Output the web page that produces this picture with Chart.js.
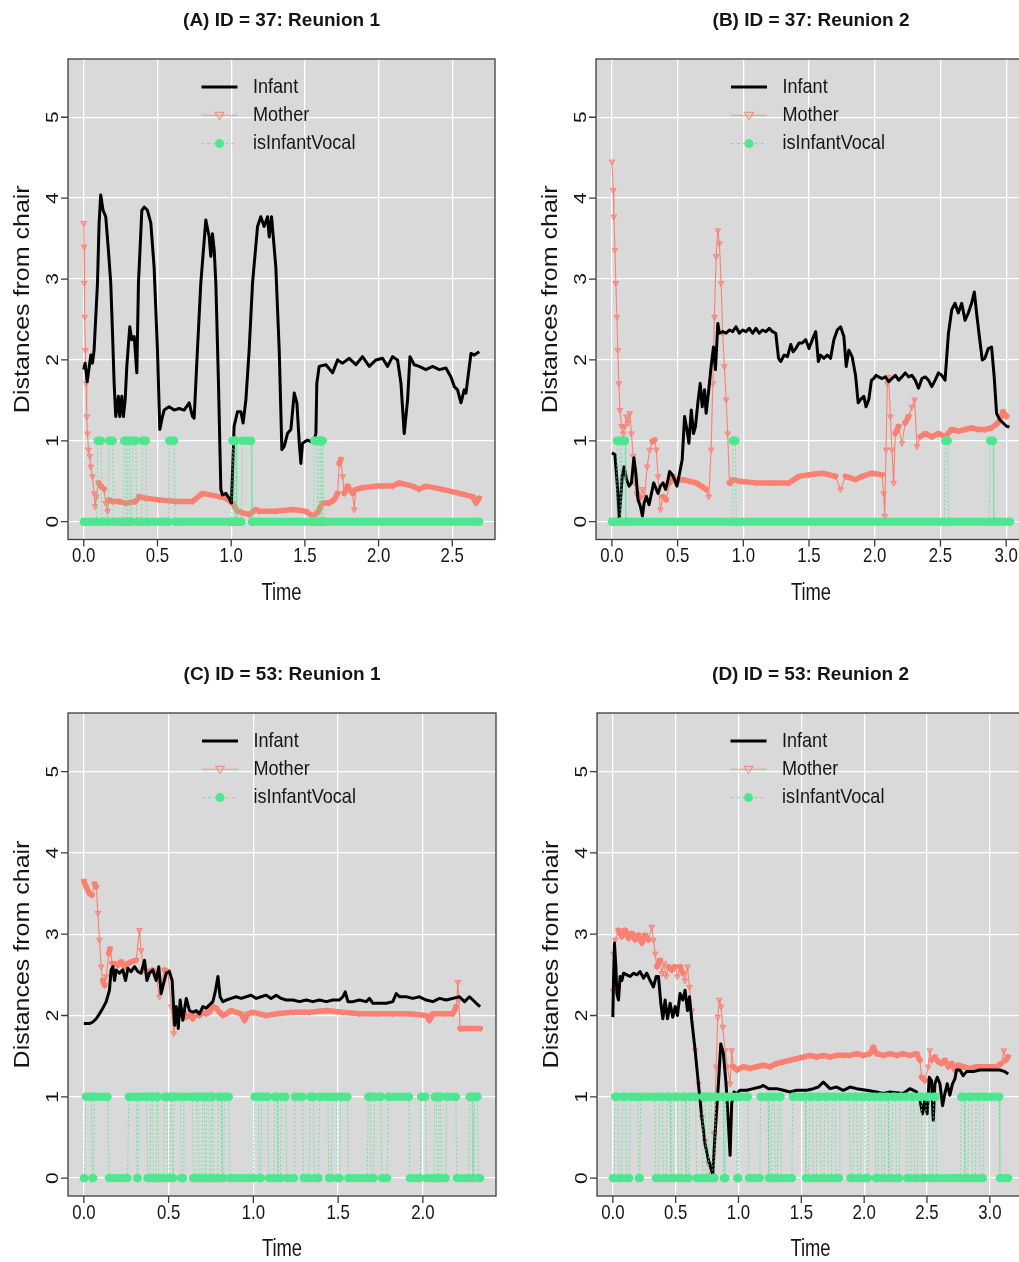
<!DOCTYPE html>
<html>
<head>
<meta charset="utf-8">
<title>Distances from chair</title>
<script src="https://cdn.jsdelivr.net/npm/chart.js@4.4.1/dist/chart.umd.min.js"></script>
<style>
html, body { margin: 0; padding: 0; background: #fff; width: 1019px; height: 1262px; overflow: hidden; }
canvas { position: absolute; }
</style>
</head>
<body>
<canvas id="pA" width="510" height="640" style="left:0;top:0;width:510px;height:640px"></canvas>
<canvas id="pB" width="530" height="640" style="left:510px;top:0;width:530px;height:640px"></canvas>
<canvas id="pC" width="510" height="622" style="left:0;top:640px;width:510px;height:622px"></canvas>
<canvas id="pD" width="530" height="622" style="left:510px;top:640px;width:530px;height:622px"></canvas>
<script>
// ---- data: [time, distance] ----
const infantA = [[0,1.88],[0.009,1.96],[0.023,1.73],[0.048,2.06],[0.059,1.96],[0.070,2.12],[0.093,2.95],[0.104,3.69],[0.115,4.04],[0.131,3.85],
  [0.149,3.77],[0.167,3.36],[0.183,2.95],[0.195,2.33],[0.206,1.71],[0.217,1.30],[0.235,1.55],[0.244,1.30],[0.258,1.55],[0.269,1.30],
  [0.281,1.51],[0.292,1.92],[0.312,2.41],[0.326,2.25],[0.342,2.29],[0.360,1.84],[0.371,2.95],[0.394,3.85],[0.410,3.89],[0.432,3.85],
  [0.455,3.69],[0.477,3.15],[0.500,2.12],[0.516,1.14],[0.534,1.30],[0.545,1.38],[0.579,1.42],[0.613,1.38],[0.647,1.40],[0.681,1.38],
  [0.715,1.47],[0.738,1.30],[0.749,1.28],[0.771,2.12],[0.794,2.95],[0.828,3.73],[0.851,3.52],[0.862,3.28],[0.873,3.56],[0.885,3.36],
  [0.896,2.95],[0.914,1.71],[0.930,0.40],[0.941,0.33],[0.964,0.35],[0.986,0.29],[1.002,0.23],[1.020,1.18],[1.043,1.36],[1.066,1.36],
  [1.081,1.22],[1.100,1.51],[1.122,2.12],[1.145,2.95],[1.179,3.65],[1.201,3.77],[1.224,3.65],[1.247,3.77],[1.258,3.52],[1.274,3.77],
  [1.303,3.15],[1.326,2.12],[1.344,0.89],[1.360,0.93],[1.382,1.09],[1.405,1.14],[1.428,1.59],[1.446,1.47],[1.462,0.97],[1.473,0.72],
  [1.484,0.97],[1.518,1.01],[1.541,0.99],[1.563,1.01],[1.575,1.09],[1.581,1.71],[1.597,1.92],[1.643,1.94],[1.688,1.84],[1.722,2.00],
  [1.756,1.96],[1.801,2.02],[1.846,1.94],[1.891,2.04],[1.937,1.92],[1.982,2.00],[2.027,2.02],[2.061,1.92],[2.095,2.04],[2.129,2.00],
  [2.152,1.71],[2.174,1.09],[2.197,1.51],[2.213,2.04],[2.242,1.94],[2.276,1.92],[2.321,1.88],[2.367,1.92],[2.412,1.88],[2.457,1.90],
  [2.491,1.79],[2.514,1.67],[2.536,1.63],[2.559,1.47],[2.581,1.63],[2.593,1.59],[2.627,2.08],[2.649,2.06],[2.683,2.10]];
const motherA = [[0,3.69],[0.002,3.40],[0.004,2.95],[0.007,2.53],[0.011,2.12],[0.016,1.71],[0.020,1.30],[0.025,1.09],[0.032,0.89],[0.041,0.81],
  [0.048,0.68],[0.059,0.56],[0.070,0.35],[0.077,0.19],[0.086,0.31],[0.100,0.48],[0.115,0.44],[0.138,0.40],[0.149,0.23],[0.161,0.13],
  [0.172,0.27],[0.195,0.25],[0.240,0.25],[0.285,0.23],[0.353,0.25],[0.376,0.31],[0.421,0.29],[0.511,0.27],[0.624,0.25],[0.738,0.25],
  [0.805,0.35],[0.919,0.31],[0.964,0.29],[1.009,0.23],[1.043,0.13],[1.077,0.11],[1.122,0.09],[1.167,0.15],[1.190,0.13],[1.303,0.13],
  [1.416,0.15],[1.507,0.13],[1.552,0.07],[1.586,0.11],[1.620,0.23],[1.665,0.23],[1.699,0.27],[1.722,0.35],[1.733,0.72],[1.744,0.77],
  [1.756,0.56],[1.767,0.35],[1.790,0.44],[1.824,0.35],[1.835,0.15],[1.846,0.40],[1.891,0.42],[1.982,0.44],[2.027,0.44],[2.095,0.44],
  [2.140,0.48],[2.231,0.44],[2.276,0.40],[2.321,0.44],[2.434,0.40],[2.548,0.35],[2.638,0.31],[2.661,0.23],[2.683,0.29]];
// vocal runs: [start, end, level]
const vocalA = [[0,0.088,0],[0.094,0.116,1],[0.122,0.166,0],[0.172,0.196,1],[0.202,0.268,0],[0.274,0.285,1],[0.29,0.294,0],[0.299,0.31,1],
  [0.316,0.324,0],[0.33,0.353,1],[0.359,0.392,0],[0.398,0.421,1],[0.427,0.574,0],[0.58,0.613,1],[0.619,1.004,0],[1.008,1.018,1],
  [1.022,1.024,0],[1.028,1.034,1],[1.038,1.07,0],[1.076,1.135,1],[1.141,1.558,0],[1.564,1.58,1],[1.585,1.59,0],[1.595,1.605,1],
  [1.61,1.612,0],[1.616,1.622,1],[1.628,2.683,0]];

const infantB = [[0,0.85],[0.023,0.83],[0.040,0.48],[0.056,0.05],[0.066,0.27],[0.078,0.56],[0.093,0.68],[0.111,0.52],[0.131,0.44],[0.149,0.48],
  [0.167,0.79],[0.182,0.60],[0.199,0.27],[0.217,0.19],[0.232,0.07],[0.245,0.23],[0.263,0.31],[0.283,0.21],[0.301,0.35],[0.318,0.48],
  [0.333,0.42],[0.351,0.35],[0.369,0.44],[0.389,0.48],[0.409,0.40],[0.427,0.52],[0.439,0.62],[0.460,0.58],[0.477,0.52],[0.495,0.44],
  [0.515,0.60],[0.535,0.77],[0.553,1.30],[0.571,1.14],[0.586,0.97],[0.604,1.38],[0.621,1.09],[0.636,1.18],[0.654,1.47],[0.672,1.71],
  [0.687,1.42],[0.705,1.63],[0.717,1.34],[0.737,1.63],[0.755,1.92],[0.773,2.16],[0.788,1.88],[0.806,2.45],[0.818,2.33],[0.843,2.35],
  [0.869,2.33],[0.894,2.37],[0.919,2.35],[0.944,2.41],[0.970,2.33],[0.995,2.37],[1.020,2.35],[1.045,2.39],[1.071,2.33],[1.096,2.39],
  [1.121,2.33],[1.146,2.37],[1.172,2.35],[1.197,2.39],[1.222,2.35],[1.247,2.33],[1.268,2.02],[1.285,1.98],[1.311,2.06],[1.336,2.04],
  [1.361,2.19],[1.379,2.10],[1.399,2.14],[1.424,2.21],[1.449,2.21],[1.475,2.25],[1.500,2.14],[1.525,2.25],[1.551,2.35],[1.571,1.98],
  [1.588,2.06],[1.614,2.02],[1.639,2.06],[1.664,2.02],[1.689,2.25],[1.715,2.37],[1.740,2.41],[1.765,2.29],[1.783,1.92],[1.803,2.12],
  [1.828,2.04],[1.854,1.81],[1.874,1.47],[1.891,1.51],[1.917,1.55],[1.934,1.42],[1.955,1.51],[1.975,1.75],[1.992,1.77],[2.010,1.81],
  [2.030,1.79],[2.056,1.77],[2.081,1.79],[2.106,1.73],[2.131,1.77],[2.157,1.81],[2.182,1.75],[2.207,1.79],[2.232,1.84],[2.258,1.79],
  [2.283,1.81],[2.308,1.75],[2.333,1.65],[2.359,1.77],[2.384,1.79],[2.409,1.75],[2.434,1.67],[2.460,1.75],[2.485,1.84],[2.510,1.81],
  [2.535,1.75],[2.561,2.33],[2.586,2.62],[2.611,2.70],[2.636,2.58],[2.662,2.70],[2.687,2.49],[2.712,2.58],[2.737,2.70],[2.758,2.84],
  [2.775,2.58],[2.793,2.33],[2.818,2.00],[2.838,2.02],[2.864,2.14],[2.889,2.16],[2.909,1.79],[2.927,1.34],[2.952,1.26],[2.977,1.22],
  [3.003,1.18],[3.025,1.17]];
const motherB = [[0,4.45],[0.010,4.10],[0.015,3.77],[0.023,3.36],[0.030,2.95],[0.038,2.53],[0.045,2.12],[0.053,1.71],[0.061,1.38],[0.073,1.18],
  [0.086,1.09],[0.098,1.18],[0.111,1.30],[0.124,1.22],[0.136,1.34],[0.149,1.09],[0.162,0.81],[0.174,0.48],[0.192,0.35],[0.212,0.29],
  [0.232,0.40],[0.250,0.31],[0.268,0.68],[0.288,0.89],[0.308,0.99],[0.326,1.01],[0.338,0.89],[0.351,0.56],[0.369,0.15],[0.389,0.31],
  [0.414,0.27],[0.439,0.48],[0.465,0.56],[0.490,0.48],[0.515,0.52],[0.540,0.52],[0.591,0.50],[0.641,0.48],[0.679,0.44],[0.717,0.40],
  [0.737,0.31],[0.755,0.89],[0.768,1.71],[0.780,2.53],[0.793,3.28],[0.806,3.60],[0.818,3.44],[0.831,2.95],[0.843,2.33],[0.856,1.92],
  [0.869,1.51],[0.881,1.09],[0.894,0.48],[0.907,0.48],[0.919,0.52],[0.970,0.50],[1.096,0.48],[1.222,0.48],[1.348,0.48],[1.424,0.56],
  [1.500,0.58],[1.601,0.60],[1.702,0.56],[1.740,0.40],[1.778,0.56],[1.854,0.52],[1.904,0.56],[1.980,0.60],[2.056,0.58],[2.068,0.35],
  [2.076,0.07],[2.086,0.89],[2.096,1.71],[2.106,1.79],[2.119,1.30],[2.131,0.89],[2.144,0.48],[2.157,1.09],[2.182,1.18],[2.207,0.97],
  [2.232,1.22],[2.258,1.30],[2.283,1.42],[2.303,1.51],[2.321,0.93],[2.346,1.05],[2.384,1.09],[2.434,1.05],[2.485,1.09],[2.535,1.05],
  [2.586,1.14],[2.636,1.12],[2.687,1.14],[2.737,1.16],[2.788,1.14],[2.838,1.14],[2.889,1.16],[2.939,1.22],[2.977,1.36],[3.003,1.30]];
const vocalB = [[0,0.032,0],[0.038,0.06,1],[0.065,0.07,0],[0.075,0.1,1],[0.106,0.914,0],[0.92,0.94,1],[0.946,2.53,0],[2.536,2.556,1],
  [2.562,2.872,0],[2.878,2.9,1],[2.906,3.03,0]];

const infantC = [[0,1.90],[0.033,1.90],[0.053,1.92],[0.073,1.96],[0.092,2.02],[0.112,2.09],[0.132,2.17],[0.151,2.31],[0.161,2.56],[0.171,2.60],
  [0.181,2.43],[0.191,2.56],[0.210,2.52],[0.230,2.56],[0.246,2.43],[0.260,2.58],[0.279,2.54],[0.299,2.60],[0.319,2.54],[0.338,2.52],
  [0.358,2.68],[0.372,2.43],[0.387,2.52],[0.407,2.56],[0.427,2.43],[0.442,2.60],[0.456,2.27],[0.470,2.39],[0.486,2.52],[0.505,2.54],
  [0.521,2.43],[0.535,1.88],[0.545,2.11],[0.557,1.84],[0.568,2.19],[0.584,1.94],[0.604,2.21],[0.623,2.06],[0.643,2.04],[0.663,2.06],
  [0.682,2.02],[0.702,2.11],[0.722,2.09],[0.741,2.13],[0.761,2.17],[0.777,2.31],[0.791,2.48],[0.804,2.23],[0.820,2.17],[0.840,2.19],
  [0.869,2.21],[0.899,2.23],[0.928,2.21],[0.958,2.23],[0.987,2.25],[1.017,2.21],[1.046,2.23],[1.076,2.25],[1.105,2.21],[1.135,2.25],
  [1.164,2.21],[1.194,2.19],[1.233,2.19],[1.272,2.17],[1.312,2.19],[1.351,2.17],[1.390,2.19],[1.430,2.17],[1.469,2.19],[1.508,2.19],
  [1.528,2.23],[1.542,2.29],[1.558,2.17],[1.587,2.17],[1.626,2.19],[1.666,2.17],[1.685,2.21],[1.705,2.15],[1.744,2.15],[1.784,2.15],
  [1.823,2.17],[1.843,2.27],[1.862,2.23],[1.902,2.23],[1.941,2.21],[1.980,2.23],[2.020,2.19],[2.059,2.17],[2.098,2.21],[2.138,2.19],
  [2.177,2.21],[2.216,2.23],[2.246,2.17],[2.275,2.23],[2.295,2.19],[2.315,2.15],[2.338,2.11]];
const motherC = [[0,3.65],[0.014,3.58],[0.033,3.50],[0.049,3.48],[0.063,3.62],[0.073,3.58],[0.083,3.26],[0.092,2.93],[0.102,2.60],[0.112,2.43],
  [0.122,2.37],[0.132,2.48],[0.147,2.76],[0.155,2.82],[0.167,2.64],[0.181,2.64],[0.201,2.62],[0.220,2.66],[0.240,2.60],[0.260,2.64],
  [0.279,2.66],[0.309,2.68],[0.328,3.05],[0.338,2.80],[0.352,2.56],[0.378,2.54],[0.407,2.56],[0.427,2.48],[0.446,2.23],[0.456,2.39],
  [0.476,2.56],[0.496,2.54],[0.515,2.11],[0.531,1.78],[0.545,1.94],[0.564,2.02],[0.584,2.06],[0.604,1.98],[0.623,2.00],[0.643,1.96],
  [0.663,2.02],[0.682,2.00],[0.702,2.04],[0.722,2.02],[0.741,2.04],[0.761,2.11],[0.781,2.09],[0.800,2.04],[0.820,2.00],[0.840,2.02],
  [0.869,2.06],[0.899,2.04],[0.928,2.02],[0.948,1.94],[0.968,2.02],[0.997,2.04],[1.036,2.02],[1.076,2.00],[1.135,2.02],[1.233,2.04],
  [1.331,2.04],[1.430,2.06],[1.528,2.04],[1.626,2.02],[1.725,2.02],[1.823,2.02],[1.921,2.02],[2.020,2.00],[2.039,1.94],[2.059,2.02],
  [2.118,2.02],[2.177,2.02],[2.197,2.11],[2.207,2.41],[2.212,2.19],[2.220,1.84],[2.236,1.84],[2.275,1.84],[2.338,1.84]];
const vocalC = [[0,0.004,0],[0.012,0.045,1],[0.05,0.056,0],[0.063,0.14,1],[0.148,0.258,0],[0.265,0.31,1],[0.315,0.318,0],[0.325,0.37,1],
  [0.375,0.39,0],[0.395,0.405,1],[0.41,0.425,0],[0.43,0.437,1],[0.442,0.47,0],[0.476,0.49,1],[0.495,0.505,0],[0.51,0.518,1],
  [0.522,0.528,0],[0.532,0.57,1],[0.574,0.585,0],[0.59,0.64,1],[0.645,0.66,0],[0.665,0.675,1],[0.68,0.695,0],[0.70,0.71,1],
  [0.715,0.72,0],[0.725,0.738,1],[0.743,0.75,0],[0.755,0.76,1],[0.765,0.79,0],[0.795,0.81,1],[0.815,0.825,0],[0.83,0.855,1],
  [0.862,1.0,0],[1.007,1.03,1],[1.035,1.045,0],[1.05,1.085,1],[1.09,1.12,0],[1.125,1.14,1],[1.145,1.16,0],[1.165,1.19,1],
  [1.197,1.24,0],[1.245,1.29,1],[1.296,1.33,0],[1.335,1.355,1],[1.36,1.385,0],[1.39,1.44,1],[1.445,1.46,0],[1.465,1.49,1],
  [1.495,1.51,0],[1.515,1.555,1],[1.56,1.672,0],[1.678,1.69,1],[1.695,1.71,0],[1.715,1.752,1],[1.758,1.79,0],[1.795,1.918,1],
  [1.923,1.985,0],[1.99,2.015,1],[2.022,2.065,0],[2.07,2.08,1],[2.085,2.09,0],[2.095,2.105,1],[2.11,2.135,0],[2.14,2.195,1],
  [2.2,2.27,0],[2.275,2.29,1],[2.295,2.30,0],[2.305,2.322,1],[2.328,2.338,0]];

const infantD = [[0,1.98],[0.005,2.39],[0.013,2.89],[0.024,2.60],[0.032,2.27],[0.045,2.19],[0.058,2.48],[0.072,2.43],[0.085,2.52],[0.111,2.50],
  [0.138,2.48],[0.164,2.52],[0.191,2.50],[0.217,2.54],[0.244,2.46],[0.270,2.52],[0.297,2.43],[0.323,2.35],[0.345,2.48],[0.363,2.48],
  [0.382,2.15],[0.398,1.96],[0.416,2.19],[0.435,1.96],[0.456,2.15],[0.477,1.98],[0.496,2.11],[0.514,2.00],[0.535,2.27],[0.557,2.19],
  [0.575,2.31],[0.594,2.06],[0.610,2.23],[0.628,1.94],[0.655,1.57],[0.681,1.16],[0.708,0.75],[0.734,0.42],[0.761,0.22],[0.795,0.05],
  [0.814,0.55],[0.840,1.16],[0.859,1.65],[0.880,1.53],[0.901,1.16],[0.920,0.67],[0.933,0.28],[0.946,0.92],[0.965,1.06],[0.986,1.04],
  [1.012,1.08],[1.065,1.08],[1.118,1.10],[1.171,1.12],[1.198,1.14],[1.238,1.10],[1.304,1.10],[1.357,1.08],[1.410,1.06],[1.463,1.08],
  [1.542,1.08],[1.596,1.10],[1.635,1.12],[1.675,1.18],[1.702,1.14],[1.728,1.10],[1.781,1.12],[1.834,1.08],[1.887,1.12],[1.940,1.10],
  [2.020,1.08],[2.099,1.06],[2.152,1.04],[2.205,1.06],[2.258,1.05],[2.311,1.04],[2.364,1.10],[2.417,1.06],[2.444,0.96],[2.465,0.79],
  [2.483,0.96],[2.502,0.79],[2.518,1.24],[2.536,1.20],[2.550,0.71],[2.563,1.16],[2.582,1.24],[2.603,1.16],[2.624,0.89],[2.642,1.04],
  [2.661,1.16],[2.682,1.02],[2.703,1.16],[2.722,1.22],[2.735,1.33],[2.762,1.33],[2.788,1.26],[2.815,1.31],[2.868,1.31],[2.921,1.33],
  [2.974,1.33],[3.027,1.33],[3.080,1.33],[3.120,1.31],[3.146,1.28]];
const motherD = [[0,2.30],[0.005,2.76],[0.019,2.93],[0.045,3.05],[0.072,2.97],[0.098,3.05],[0.125,2.95],[0.151,3.01],[0.178,2.93],[0.204,2.99],
  [0.231,2.89],[0.257,2.99],[0.284,2.93],[0.310,3.09],[0.323,2.93],[0.337,2.76],[0.350,2.60],[0.376,2.68],[0.390,2.52],[0.408,2.64],
  [0.424,2.48],[0.443,2.60],[0.469,2.56],[0.496,2.60],[0.514,2.48],[0.535,2.60],[0.557,2.52],[0.575,2.43],[0.594,2.60],[0.610,2.35],
  [0.628,2.06],[0.655,1.57],[0.681,1.16],[0.708,0.75],[0.734,0.46],[0.761,0.18],[0.787,0.05],[0.806,0.55],[0.822,1.37],[0.835,1.98],
  [0.848,2.19],[0.861,2.11],[0.875,1.86],[0.893,1.57],[0.912,1.37],[0.933,1.16],[0.946,1.57],[0.959,1.37],[0.986,1.33],[1.039,1.37],
  [1.092,1.35],[1.145,1.37],[1.198,1.39],[1.251,1.37],[1.304,1.41],[1.357,1.43],[1.410,1.45],[1.463,1.47],[1.516,1.49],[1.569,1.51],
  [1.622,1.49],[1.675,1.51],[1.728,1.49],[1.781,1.51],[1.834,1.51],[1.887,1.51],[1.940,1.53],[1.993,1.51],[2.046,1.53],[2.073,1.61],
  [2.099,1.53],[2.152,1.51],[2.205,1.53],[2.258,1.51],[2.311,1.53],[2.364,1.51],[2.417,1.53],[2.444,1.45],[2.457,1.24],[2.483,1.20],
  [2.510,1.37],[2.523,1.57],[2.536,1.45],[2.563,1.49],[2.589,1.43],[2.616,1.41],[2.642,1.45],[2.669,1.37],[2.695,1.41],[2.722,1.33],
  [2.748,1.39],[2.788,1.37],[2.841,1.35],[2.894,1.37],[2.947,1.37],[3.000,1.37],[3.053,1.37],[3.093,1.41],[3.112,1.57],[3.127,1.45],
  [3.146,1.49]];
const vocalD = [[0,0.01,0],[0.018,0.04,1],[0.048,0.07,0],[0.078,0.1,1],[0.108,0.13,0],[0.138,0.2,1],[0.206,0.215,0],[0.222,0.335,1],
  [0.342,0.365,0],[0.372,0.395,1],[0.402,0.425,0],[0.432,0.455,1],[0.462,0.485,0],[0.492,0.515,1],[0.522,0.545,0],[0.552,0.575,1],
  [0.582,0.605,0],[0.612,0.66,1],[0.667,0.71,0],[0.716,0.735,1],[0.742,0.76,0],[0.767,0.785,1],[0.792,0.81,0],[0.818,0.878,1],
  [0.884,0.895,0],[0.902,0.985,1],[0.99,1.0,0],[1.008,1.075,1],[1.082,1.17,0],[1.176,1.235,1],[1.242,1.26,0],[1.267,1.285,1],
  [1.292,1.31,0],[1.317,1.335,1],[1.342,1.425,0],[1.432,1.53,1],[1.537,1.56,0],[1.567,1.59,1],[1.597,1.62,0],[1.627,1.65,1],
  [1.657,1.68,0],[1.687,1.71,1],[1.717,1.74,0],[1.747,1.77,1],[1.777,1.80,0],[1.807,1.88,1],[1.89,1.91,0],[1.917,1.94,1],
  [1.947,1.97,0],[1.977,2.0,1],[2.007,2.03,0],[2.037,2.085,1],[2.092,2.11,0],[2.117,2.135,1],[2.142,2.16,0],[2.167,2.19,1],
  [2.197,2.22,0],[2.227,2.25,1],[2.257,2.28,0],[2.287,2.335,1],[2.342,2.365,0],[2.372,2.395,1],[2.402,2.425,0],[2.432,2.455,1],
  [2.462,2.485,0],[2.492,2.515,1],[2.522,2.545,0],[2.552,2.57,1],[2.577,2.765,0],[2.772,2.795,1],[2.802,2.825,0],[2.832,2.855,1],
  [2.862,2.885,0],[2.892,2.915,1],[2.922,2.945,0],[2.952,3.075,1],[3.08,3.146,0]];

const xTicksA = [0, 0.5, 1, 1.5, 2, 2.5];
const xTicksB = [0, 0.5, 1, 1.5, 2, 2.5, 3];
const xTicksC = [0, 0.5, 1, 1.5, 2];
const xTicksD = [0, 0.5, 1, 1.5, 2, 2.5, 3];
const yTicks = [0, 1, 2, 3, 4, 5];
const seriesNames = ['Infant', 'Mother', 'isInfantVocal'];

const SALMON = '#FA8072';
const GREEN = '#4FE690';
const FONT = '"Liberation Sans", Arial, sans-serif';

const panels = [
  { id: 'pA', title: '(A) ID = 37: Reunion 1', infant: infantA, mother: motherA, vocal: vocalA, xMin: -0.107, xMax: 2.79, xTicks: xTicksA, pad: { left: 68, top: 59, right: 15, bottom: 100.5 } },
  { id: 'pB', title: '(B) ID = 37: Reunion 2', infant: infantB, mother: motherB, vocal: vocalB, xMin: -0.121, xMax: 3.151, xTicks: xTicksB, pad: { left: 86, top: 59, right: 14, bottom: 100.5 } },
  { id: 'pC', title: '(C) ID = 53: Reunion 1', infant: infantC, mother: motherC, vocal: vocalC, xMin: -0.0935, xMax: 2.4315, xTicks: xTicksC, pad: { left: 68, top: 73, right: 14, bottom: 66 } },
  { id: 'pD', title: '(D) ID = 53: Reunion 2', infant: infantD, mother: motherD, vocal: vocalD, xMin: -0.126, xMax: 3.272, xTicks: xTicksD, pad: { left: 87, top: 73, right: 16, bottom: 66 } }
];

function pts(arr) { return arr.map(d => ({ x: d[0], y: d[1] })); }
function stepPts(runs) {
  const out = [];
  runs.forEach(r => { out.push({ x: r[0], y: r[2] }); out.push({ x: r[1], y: r[2] }); });
  return out;
}

function txt(ctx, s, x, y, px, o) {
  o = o || {};
  ctx.save();
  ctx.translate(x, y);
  ctx.scale(o.sx || 1, 1);
  if (o.rot) ctx.rotate(o.rot);
  ctx.font = (o.bold ? 'bold ' : '') + px + 'px ' + FONT;
  ctx.fillStyle = o.color || '#151515';
  ctx.textAlign = o.align || 'center';
  ctx.textBaseline = 'middle';
  ctx.fillText(s, 0, 0);
  ctx.restore();
}

function frame(p) {
  return {
    id: 'rFrame',
    beforeDraw(chart) {
      const { ctx, chartArea: a } = chart;
      ctx.save();
      ctx.fillStyle = '#D9D9D9';
      ctx.fillRect(a.left, a.top, a.width, a.height);
      ctx.restore();
    },
    afterDatasetsDraw(chart) {
      const { ctx, chartArea: a } = chart;
      const xs = chart.scales.x, ys = chart.scales.y;
      ctx.save();
      ctx.strokeStyle = '#3c3c3c';
      ctx.lineWidth = 1.3;
      ctx.strokeRect(a.left, a.top, a.width, a.height);
      ctx.beginPath();
      p.xTicks.forEach(v => {
        const px = xs.getPixelForValue(v);
        ctx.moveTo(px, a.bottom); ctx.lineTo(px, a.bottom + 7);
      });
      yTicks.forEach(v => {
        const py = ys.getPixelForValue(v);
        ctx.moveTo(a.left, py); ctx.lineTo(a.left - 7, py);
      });
      ctx.stroke();
      ctx.restore();

      p.xTicks.forEach(v => txt(ctx, v.toFixed(1), xs.getPixelForValue(v), a.bottom + 17, 21, { sx: 0.8 }));
      yTicks.forEach(v => txt(ctx, String(v), a.left - 15, ys.getPixelForValue(v), 21, { sx: 0.8, rot: -Math.PI / 2 }));
      const cx = (a.left + a.right) / 2;
      txt(ctx, 'Time', cx, a.bottom + 54, 23, { sx: 0.8 });
      txt(ctx, 'Distances from chair', a.left - 45, (a.top + a.bottom) / 2, 25, { sx: 0.86, rot: -Math.PI / 2 });
      txt(ctx, p.title, cx, a.top - 38, 19, { bold: true });

      // legend, R style: line sample with marker, no box
      const x0 = cx - 80, x1 = cx - 44, xm = (x0 + x1) / 2;
      chart.data.datasets.forEach((ds, i) => {
        const yy = a.top + 28 + i * 28.3;
        ctx.save();
        if (i === 0) {
          ctx.strokeStyle = '#000'; ctx.lineWidth = 2.8;
          ctx.beginPath(); ctx.moveTo(x0, yy); ctx.lineTo(x1, yy); ctx.stroke();
        } else if (i === 1) {
          ctx.strokeStyle = 'rgba(250,128,114,0.7)'; ctx.lineWidth = 1;
          ctx.beginPath(); ctx.moveTo(x0, yy); ctx.lineTo(x1, yy); ctx.stroke();
          ctx.strokeStyle = SALMON;
          ctx.beginPath(); ctx.moveTo(xm - 4.5, yy - 3); ctx.lineTo(xm + 4.5, yy - 3); ctx.lineTo(xm, yy + 4.5); ctx.closePath(); ctx.stroke();
        } else {
          ctx.strokeStyle = 'rgba(79,230,144,0.8)'; ctx.lineWidth = 1; ctx.setLineDash([3, 3]);
          ctx.beginPath(); ctx.moveTo(x0, yy); ctx.lineTo(x1, yy); ctx.stroke();
          ctx.setLineDash([]);
          ctx.fillStyle = GREEN;
          ctx.beginPath(); ctx.arc(xm, yy, 4.5, 0, Math.PI * 2); ctx.fill();
        }
        ctx.restore();
        txt(ctx, ds.label, cx - 28.5, yy, 21, { sx: 0.86, align: 'left' });
      });
    }
  };
}

const steep = c => Math.abs(c.p1.y - c.p0.y) > 6 && Math.abs(c.p1.y - c.p0.y) > 2.5 * Math.abs(c.p1.x - c.p0.x);
const flat = c => Math.abs(c.p1.y - c.p0.y) < 0.5;

panels.forEach(p => {
  new Chart(document.getElementById(p.id), {
    type: 'line',
    data: {
      datasets: [
        { label: seriesNames[0], data: pts(p.infant), borderColor: '#000', borderWidth: 3, pointRadius: 0, tension: 0, order: 1, borderJoinStyle: 'round' },
        { label: seriesNames[1], data: pts(p.mother), borderColor: SALMON, borderWidth: 5.5, tension: 0, order: 2,
          borderCapStyle: 'round', borderJoinStyle: 'round',
          pointStyle: 'triangle', pointRotation: 180, pointRadius: 3.2, pointBorderWidth: 1,
          pointBorderColor: SALMON, pointBackgroundColor: 'rgba(250,128,114,0.35)',
          segment: { borderWidth: c => steep(c) ? 1.1 : 5.5 } },
        { label: seriesNames[2], data: stepPts(p.vocal), borderColor: GREEN, borderWidth: 8, tension: 0, order: 0,
          pointRadius: 4.2, pointStyle: 'circle', pointBorderWidth: 0, pointBackgroundColor: GREEN, pointBorderColor: GREEN,
          segment: {
            borderWidth: c => flat(c) ? 8 : 1,
            borderDash: c => flat(c) ? [] : [2, 2],
            borderColor: c => flat(c) ? GREEN : 'rgba(79,230,144,0.75)'
          } }
      ]
    },
    options: {
      responsive: false,
      animation: false,
      devicePixelRatio: 1,
      events: [],
      layout: { padding: p.pad },
      plugins: { legend: { display: false }, tooltip: { enabled: false }, title: { display: false } },
      scales: {
        x: {
          type: 'linear', min: p.xMin, max: p.xMax,
          ticks: { display: false },
          grid: { color: '#ffffff', lineWidth: 1.3, drawTicks: false },
          border: { display: false },
          afterBuildTicks: s => { s.ticks = p.xTicks.map(v => ({ value: v })); },
          afterFit: s => { s.height = 0; }
        },
        y: {
          type: 'linear', min: -0.22, max: 5.72,
          ticks: { display: false },
          grid: { color: '#ffffff', lineWidth: 1.3, drawTicks: false },
          border: { display: false },
          afterBuildTicks: s => { s.ticks = yTicks.map(v => ({ value: v })); },
          afterFit: s => { s.width = 0; }
        }
      }
    },
    plugins: [frame(p)]
  });
});
</script>
</body>
</html>
